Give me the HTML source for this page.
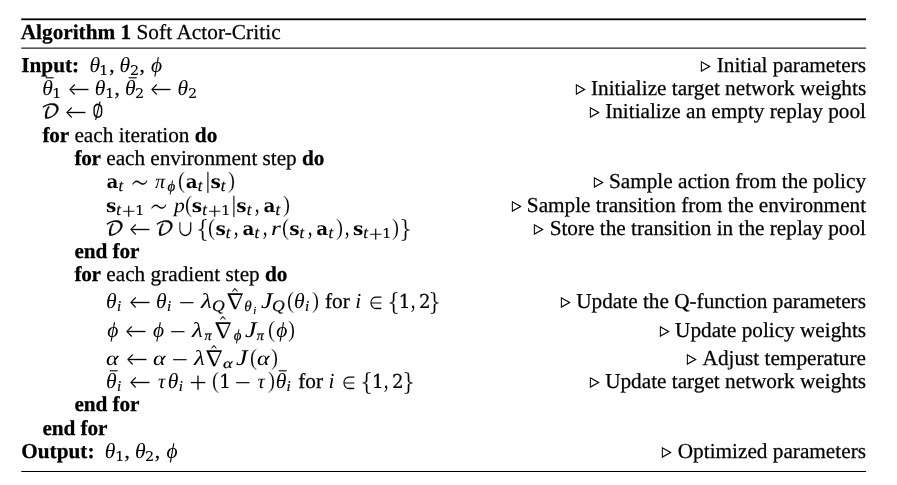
<!DOCTYPE html>
<html lang="en">
<head>
<meta charset="utf-8">
<title>Algorithm 1 Soft Actor-Critic</title>
<style>
html,body{margin:0;padding:0;background:#fff;}
body{width:897px;height:485px;position:relative;overflow:hidden;will-change:transform;color:#000;font-family:"Liberation Serif",serif;text-rendering:geometricPrecision;}
.rules{position:absolute;left:0;top:0;}
.ln{position:absolute;left:0;font-size:0;line-height:0;white-space:nowrap;}
.ln>*{display:inline-block;width:0;position:relative;line-height:0;font-size:21.25px;font-family:"Liberation Serif",serif;font-weight:normal;font-style:normal;white-space:pre;}
.ln>.w{-webkit-text-stroke:0.25px #000;}
.ln>b.w{font-weight:bold;-webkit-text-stroke:0.25px #000;}
.ln>.g{transform-origin:0 0;}
.ln>.d{font-family:"DejaVu Serif",serif;font-weight:bold;}
.ln>.e{font-family:"DejaVu Serif",serif;}
.ln>.i{font-style:italic;}
.ln>.l{font-family:"DejaVu Sans Light","DejaVu Sans",sans-serif;font-weight:200;}
.ln>.m{font-family:"DejaVu Math TeX Gyre","DejaVu Sans",sans-serif;}
.ln>.s{font-family:"DejaVu Sans",sans-serif;}
</style>
</head>
<body>
<svg class="rules" width="897" height="485" viewBox="0 0 897 485" aria-hidden="true"><rect x="21.25" y="18.40" width="844.80" height="1.80"/><rect x="21.25" y="47.58" width="844.80" height="1.08"/><rect x="21.25" y="470.97" width="844.80" height="1.03"/></svg>
<div class="ln" style="bottom:446px"><b class="w" style="left:20.75px;">Algorithm 1</b>
<span class="w" style="left:136.45px;letter-spacing:0.075px;">Soft Actor-Critic</span></div>
<div class="ln" style="bottom:413px"><b class="w" style="left:21.25px;">Input:</b>
<span class="g i" style="left:89.45px;font-size:21.63px;">θ</span>
<span class="g e" style="left:99.42px;top:3px;font-size:13.43px;transform:scaleX(1.120);-webkit-text-stroke:0.10px #000;">1</span>
<span class="w" style="left:109.26px;">,</span>
<span class="g i" style="left:119.59px;font-size:21.63px;">θ</span>
<span class="g e" style="left:129.74px;top:3px;font-size:13.43px;transform:scaleX(1.070);-webkit-text-stroke:0.10px #000;">2</span>
<span class="w" style="left:139.40px;">,</span>
<span class="g i" style="left:151.10px;font-size:21.43px;">ϕ</span>
<span class="g s" style="left:701.39px;top:-2px;font-size:13.56px;transform:scaleX(0.901);-webkit-text-stroke:0.45px #000;">▷</span>
<span class="w" style="left:716.72px;">Initial parameters</span></div>
<div class="ln" style="bottom:390px"><span class="g r" style="left:45.84px;top:-7px;font-size:13.95px;transform:scaleX(1.061);-webkit-text-stroke:0.30px #000;">¯</span>
<span class="g i" style="left:42.20px;font-size:21.63px;">θ</span>
<span class="g e" style="left:52.18px;top:3px;font-size:13.43px;transform:scaleX(1.120);-webkit-text-stroke:0.10px #000;">1</span>
<span class="g l" style="left:67.64px;top:3px;font-size:27.08px;transform:scaleX(0.971);-webkit-text-stroke:0.10px #fff;">←</span>
<span class="g i" style="left:94.77px;font-size:21.63px;">θ</span>
<span class="g e" style="left:104.75px;top:3px;font-size:13.43px;transform:scaleX(1.120);-webkit-text-stroke:0.10px #000;">1</span>
<span class="w" style="left:114.59px;">,</span>
<span class="g r" style="left:128.56px;top:-7px;font-size:13.95px;transform:scaleX(1.061);-webkit-text-stroke:0.30px #000;">¯</span>
<span class="g i" style="left:124.91px;font-size:21.63px;">θ</span>
<span class="g e" style="left:135.07px;top:3px;font-size:13.43px;transform:scaleX(1.070);-webkit-text-stroke:0.10px #000;">2</span>
<span class="g l" style="left:150.35px;top:3px;font-size:27.08px;transform:scaleX(0.971);-webkit-text-stroke:0.10px #fff;">←</span>
<span class="g i" style="left:177.49px;font-size:21.63px;">θ</span>
<span class="g e" style="left:187.64px;top:3px;font-size:13.43px;transform:scaleX(1.070);-webkit-text-stroke:0.10px #000;">2</span>
<span class="g s" style="left:575.65px;top:-2px;font-size:13.56px;transform:scaleX(0.901);-webkit-text-stroke:0.45px #000;">▷</span>
<span class="w" style="left:590.99px;">Initialize target network weights</span></div>
<div class="ln" style="bottom:367px"><span class="g m" style="left:41.30px;font-size:18.91px;transform:scaleX(1.096);-webkit-text-stroke:0.30px #000;">𝒟</span>
<span class="g l" style="left:65.11px;top:3px;font-size:27.08px;transform:scaleX(0.971);-webkit-text-stroke:0.10px #fff;">←</span>
<span class="g m" style="left:91.99px;font-size:19.83px;transform:scaleX(0.893);">∅</span>
<span class="g s" style="left:589.81px;top:-2px;font-size:13.56px;transform:scaleX(0.901);-webkit-text-stroke:0.45px #000;">▷</span>
<span class="w" style="left:605.14px;">Initialize an empty replay pool</span></div>
<div class="ln" style="bottom:343px"><b class="w" style="left:42.50px;letter-spacing:-0.266px;">for</b>
<span class="w" style="left:74.43px;">each iteration</span>
<b class="w" style="left:194.83px;letter-spacing:-0.009px;">do</b></div>
<div class="ln" style="bottom:320px"><b class="w" style="left:74.38px;letter-spacing:-0.266px;">for</b>
<span class="w" style="left:106.31px;letter-spacing:-0.040px;">each environment step</span>
<b class="w" style="left:302.01px;letter-spacing:-0.009px;">do</b></div>
<div class="ln" style="bottom:297px"><span class="g d" style="left:106.40px;font-size:18.42px;-webkit-text-stroke:0.10px #fff;">a</span>
<span class="g i" style="left:118.45px;top:3px;font-size:16.59px;-webkit-text-stroke:0.20px #000;">t</span>
<span class="g l" style="left:130.00px;top:10px;font-size:43.81px;transform:scaleX(0.703);-webkit-text-stroke:0.20px #fff;">∼</span>
<span class="g i" style="left:154.91px;font-size:20.27px;">π</span>
<span class="g i" style="left:167.56px;top:3px;font-size:14.90px;-webkit-text-stroke:0.20px #000;">ϕ</span>
<span class="g r" style="left:178.30px;font-size:23.56px;transform:scaleX(0.894);-webkit-text-stroke:0.20px #fff;">(</span>
<span class="g d" style="left:185.77px;font-size:18.42px;-webkit-text-stroke:0.10px #fff;">a</span>
<span class="g i" style="left:197.82px;top:3px;font-size:16.59px;-webkit-text-stroke:0.20px #000;">t</span>
<span class="g r" style="left:206.08px;font-size:23.19px;transform:scaleX(0.805);-webkit-text-stroke:0.20px #000;">|</span>
<span class="g d" style="left:210.51px;font-size:18.42px;-webkit-text-stroke:0.10px #fff;">s</span>
<span class="g i" style="left:220.84px;top:3px;font-size:16.59px;-webkit-text-stroke:0.20px #000;">t</span>
<span class="g r" style="left:228.31px;font-size:23.56px;transform:scaleX(0.894);-webkit-text-stroke:0.20px #fff;">)</span>
<span class="g s" style="left:593.65px;top:-2px;font-size:13.56px;transform:scaleX(0.901);-webkit-text-stroke:0.45px #000;">▷</span>
<span class="w" style="left:608.99px;letter-spacing:-0.008px;">Sample action from the policy</span></div>
<div class="ln" style="bottom:273px"><span class="g d" style="left:105.88px;font-size:18.42px;-webkit-text-stroke:0.10px #fff;">s</span>
<span class="g i" style="left:116.21px;top:3px;font-size:16.59px;-webkit-text-stroke:0.20px #000;">t</span>
<span class="g s" style="left:121.13px;top:5px;font-size:18.34px;transform:scaleX(1.004);-webkit-text-stroke:0.30px #fff;">+</span>
<span class="g e" style="left:135.07px;top:3px;font-size:13.43px;transform:scaleX(1.120);-webkit-text-stroke:0.10px #000;">1</span>
<span class="g l" style="left:149.28px;top:10px;font-size:43.81px;transform:scaleX(0.703);-webkit-text-stroke:0.20px #fff;">∼</span>
<span class="g i" style="left:173.69px;font-size:20.20px;transform:scaleX(1.066);">p</span>
<span class="g r" style="left:184.88px;font-size:23.56px;transform:scaleX(0.894);-webkit-text-stroke:0.20px #fff;">(</span>
<span class="g d" style="left:191.82px;font-size:18.42px;-webkit-text-stroke:0.10px #fff;">s</span>
<span class="g i" style="left:202.15px;top:3px;font-size:16.59px;-webkit-text-stroke:0.20px #000;">t</span>
<span class="g s" style="left:207.07px;top:5px;font-size:18.34px;transform:scaleX(1.004);-webkit-text-stroke:0.30px #fff;">+</span>
<span class="g e" style="left:221.01px;top:3px;font-size:13.43px;transform:scaleX(1.120);-webkit-text-stroke:0.10px #000;">1</span>
<span class="g r" style="left:231.93px;font-size:23.19px;transform:scaleX(0.805);-webkit-text-stroke:0.20px #000;">|</span>
<span class="g d" style="left:236.36px;font-size:18.42px;-webkit-text-stroke:0.10px #fff;">s</span>
<span class="g i" style="left:246.70px;top:3px;font-size:16.59px;-webkit-text-stroke:0.20px #000;">t</span>
<span class="g r" style="left:255.01px;font-size:25.48px;transform:scaleX(0.676);-webkit-text-stroke:0.20px #000;">,</span>
<span class="g d" style="left:263.46px;font-size:18.42px;-webkit-text-stroke:0.10px #fff;">a</span>
<span class="g i" style="left:275.51px;top:3px;font-size:16.59px;-webkit-text-stroke:0.20px #000;">t</span>
<span class="g r" style="left:282.98px;font-size:23.56px;transform:scaleX(0.894);-webkit-text-stroke:0.20px #fff;">)</span>
<span class="g s" style="left:511.53px;top:-2px;font-size:13.56px;transform:scaleX(0.901);-webkit-text-stroke:0.45px #000;">▷</span>
<span class="w" style="left:526.87px;letter-spacing:-0.020px;">Sample transition from the environment</span></div>
<div class="ln" style="bottom:250px"><span class="g m" style="left:105.06px;font-size:18.91px;transform:scaleX(1.096);-webkit-text-stroke:0.30px #000;">𝒟</span>
<span class="g l" style="left:128.87px;top:3px;font-size:27.08px;transform:scaleX(0.971);-webkit-text-stroke:0.10px #fff;">←</span>
<span class="g m" style="left:155.11px;font-size:18.91px;transform:scaleX(1.096);-webkit-text-stroke:0.30px #000;">𝒟</span>
<span class="g e" style="left:176.81px;top:1px;font-size:22.76px;transform:scaleX(0.869);-webkit-text-stroke:0.30px #fff;">∪</span>
<span class="g e" style="left:195.60px;top:2px;font-size:23.83px;transform:scaleX(0.872);-webkit-text-stroke:0.20px #fff;">{</span>
<span class="g r" style="left:208.48px;font-size:23.56px;transform:scaleX(0.894);-webkit-text-stroke:0.20px #fff;">(</span>
<span class="g d" style="left:215.42px;font-size:18.42px;-webkit-text-stroke:0.10px #fff;">s</span>
<span class="g i" style="left:225.75px;top:3px;font-size:16.59px;-webkit-text-stroke:0.20px #000;">t</span>
<span class="g r" style="left:234.06px;font-size:25.48px;transform:scaleX(0.676);-webkit-text-stroke:0.20px #000;">,</span>
<span class="g d" style="left:242.51px;font-size:18.42px;-webkit-text-stroke:0.10px #fff;">a</span>
<span class="g i" style="left:254.56px;top:3px;font-size:16.59px;-webkit-text-stroke:0.20px #000;">t</span>
<span class="g r" style="left:262.87px;font-size:25.48px;transform:scaleX(0.676);-webkit-text-stroke:0.20px #000;">,</span>
<span class="g i" style="left:270.63px;font-size:20.23px;transform:scaleX(1.255);">r</span>
<span class="g r" style="left:282.30px;font-size:23.56px;transform:scaleX(0.894);-webkit-text-stroke:0.20px #fff;">(</span>
<span class="g d" style="left:289.24px;font-size:18.42px;-webkit-text-stroke:0.10px #fff;">s</span>
<span class="g i" style="left:299.57px;top:3px;font-size:16.59px;-webkit-text-stroke:0.20px #000;">t</span>
<span class="g r" style="left:307.88px;font-size:25.48px;transform:scaleX(0.676);-webkit-text-stroke:0.20px #000;">,</span>
<span class="g d" style="left:316.34px;font-size:18.42px;-webkit-text-stroke:0.10px #fff;">a</span>
<span class="g i" style="left:328.38px;top:3px;font-size:16.59px;-webkit-text-stroke:0.20px #000;">t</span>
<span class="g r" style="left:335.85px;font-size:23.56px;transform:scaleX(0.894);-webkit-text-stroke:0.20px #fff;">)</span>
<span class="g r" style="left:344.96px;font-size:25.48px;transform:scaleX(0.676);-webkit-text-stroke:0.20px #000;">,</span>
<span class="g d" style="left:352.89px;font-size:18.42px;-webkit-text-stroke:0.10px #fff;">s</span>
<span class="g i" style="left:363.22px;top:3px;font-size:16.59px;-webkit-text-stroke:0.20px #000;">t</span>
<span class="g s" style="left:368.13px;top:5px;font-size:18.34px;transform:scaleX(1.004);-webkit-text-stroke:0.30px #fff;">+</span>
<span class="g e" style="left:382.08px;top:3px;font-size:13.43px;transform:scaleX(1.120);-webkit-text-stroke:0.10px #000;">1</span>
<span class="g r" style="left:392.21px;font-size:23.56px;transform:scaleX(0.894);-webkit-text-stroke:0.20px #fff;">)</span>
<span class="g e" style="left:398.88px;top:2px;font-size:23.83px;transform:scaleX(0.872);-webkit-text-stroke:0.20px #fff;">}</span>
<span class="g s" style="left:534.29px;top:-2px;font-size:13.56px;transform:scaleX(0.901);-webkit-text-stroke:0.45px #000;">▷</span>
<span class="w" style="left:549.63px;">Store the transition in the replay pool</span></div>
<div class="ln" style="bottom:227px"><b class="w" style="left:74.38px;letter-spacing:-0.087px;">end for</b></div>
<div class="ln" style="bottom:204px"><b class="w" style="left:74.38px;letter-spacing:-0.266px;">for</b>
<span class="w" style="left:106.31px;">each gradient step</span>
<b class="w" style="left:265.07px;letter-spacing:-0.009px;">do</b></div>
<div class="ln" style="bottom:177px"><span class="g i" style="left:105.96px;font-size:21.63px;">θ</span>
<span class="g i" style="left:116.93px;top:3px;font-size:14.96px;-webkit-text-stroke:0.20px #000;">i</span>
<span class="g l" style="left:128.94px;top:3px;font-size:27.08px;transform:scaleX(0.971);-webkit-text-stroke:0.10px #fff;">←</span>
<span class="g i" style="left:156.08px;font-size:21.63px;">θ</span>
<span class="g i" style="left:167.04px;top:3px;font-size:14.96px;-webkit-text-stroke:0.20px #000;">i</span>
<span class="g s" style="left:177.60px;top:-1px;font-size:13.74px;transform:scaleX(1.531);-webkit-text-stroke:0.10px #000;">−</span>
<span class="g i" style="left:201.00px;font-size:21.15px;transform:scaleX(1.181);">λ</span>
<span class="g i" style="left:211.82px;top:3px;font-size:15.98px;transform:scaleX(1.099);-webkit-text-stroke:0.20px #000;">Q</span>
<span class="g s" style="left:231.18px;top:-11px;font-size:12.03px;transform:scaleX(0.777);-webkit-text-stroke:0.10px #000;">^</span>
<span class="g m" style="left:223.99px;top:1px;font-size:21.97px;transform:scaleX(1.146);-webkit-text-stroke:0.20px #fff;">∇</span>
<span class="g i" style="left:244.35px;top:3px;font-size:15.04px;-webkit-text-stroke:0.20px #000;">θ</span>
<span class="g i" style="left:253.27px;top:6px;font-size:10.77px;-webkit-text-stroke:0.20px #000;">i</span>
<span class="g i" style="left:260.83px;font-size:22.39px;transform:scaleX(1.167);">J</span>
<span class="g i" style="left:271.66px;top:3px;font-size:15.98px;transform:scaleX(1.099);-webkit-text-stroke:0.20px #000;">Q</span>
<span class="g r" style="left:287.03px;font-size:23.56px;transform:scaleX(0.894);-webkit-text-stroke:0.20px #fff;">(</span>
<span class="g i" style="left:294.05px;font-size:21.63px;">θ</span>
<span class="g i" style="left:305.02px;top:3px;font-size:14.96px;-webkit-text-stroke:0.20px #000;">i</span>
<span class="g r" style="left:311.70px;font-size:23.56px;transform:scaleX(0.894);-webkit-text-stroke:0.20px #fff;">)</span>
<span class="w" style="left:324.99px;">for</span>
<span class="g i" style="left:355.26px;font-size:21.43px;">i</span>
<span class="g s" style="left:368.54px;top:1px;font-size:17.84px;transform:scaleX(0.881);-webkit-text-stroke:0.10px #fff;">∈</span>
<span class="g e" style="left:387.07px;top:2px;font-size:23.83px;transform:scaleX(0.872);-webkit-text-stroke:0.20px #fff;">{</span>
<span class="g e" style="left:398.53px;font-size:19.13px;-webkit-text-stroke:0.20px #000;">1</span>
<span class="g r" style="left:410.77px;font-size:25.48px;transform:scaleX(0.676);-webkit-text-stroke:0.20px #000;">,</span>
<span class="g e" style="left:418.87px;font-size:19.13px;transform:scaleX(0.952);-webkit-text-stroke:0.20px #000;">2</span>
<span class="g e" style="left:428.40px;top:2px;font-size:23.83px;transform:scaleX(0.872);-webkit-text-stroke:0.20px #fff;">}</span>
<span class="g s" style="left:560.92px;top:-2px;font-size:13.56px;transform:scaleX(0.901);-webkit-text-stroke:0.45px #000;">▷</span>
<span class="w" style="left:576.26px;">Update the Q-function parameters</span></div>
<div class="ln" style="bottom:148px"><span class="g i" style="left:107.33px;font-size:21.43px;">ϕ</span>
<span class="g l" style="left:124.55px;top:3px;font-size:27.08px;transform:scaleX(0.971);-webkit-text-stroke:0.10px #fff;">←</span>
<span class="g i" style="left:153.06px;font-size:21.43px;">ϕ</span>
<span class="g s" style="left:168.82px;top:-1px;font-size:13.74px;transform:scaleX(1.531);-webkit-text-stroke:0.10px #000;">−</span>
<span class="g i" style="left:192.23px;font-size:21.15px;transform:scaleX(1.181);">λ</span>
<span class="g i" style="left:204.43px;top:3px;font-size:14.06px;-webkit-text-stroke:0.20px #000;">π</span>
<span class="g s" style="left:219.49px;top:-12px;font-size:12.03px;transform:scaleX(0.777);-webkit-text-stroke:0.10px #000;">^</span>
<span class="g m" style="left:212.30px;top:1px;font-size:21.97px;transform:scaleX(1.146);-webkit-text-stroke:0.20px #fff;">∇</span>
<span class="g i" style="left:233.76px;top:3px;font-size:14.90px;-webkit-text-stroke:0.20px #000;">ϕ</span>
<span class="g i" style="left:244.53px;font-size:22.39px;transform:scaleX(1.167);">J</span>
<span class="g i" style="left:256.75px;top:3px;font-size:14.06px;-webkit-text-stroke:0.20px #000;">π</span>
<span class="g r" style="left:267.82px;font-size:23.56px;transform:scaleX(0.894);-webkit-text-stroke:0.20px #fff;">(</span>
<span class="g i" style="left:276.21px;font-size:21.43px;">ϕ</span>
<span class="g r" style="left:288.10px;font-size:23.56px;transform:scaleX(0.894);-webkit-text-stroke:0.20px #fff;">)</span>
<span class="g s" style="left:659.77px;top:-2px;font-size:13.56px;transform:scaleX(0.901);-webkit-text-stroke:0.45px #000;">▷</span>
<span class="w" style="left:675.11px;letter-spacing:-0.014px;">Update policy weights</span></div>
<div class="ln" style="bottom:120px"><span class="g i" style="left:106.29px;font-size:20.21px;transform:scaleX(1.180);">α</span>
<span class="g l" style="left:125.56px;top:3px;font-size:27.08px;transform:scaleX(0.971);-webkit-text-stroke:0.10px #fff;">←</span>
<span class="g i" style="left:153.02px;font-size:20.21px;transform:scaleX(1.180);">α</span>
<span class="g s" style="left:170.84px;top:-1px;font-size:13.74px;transform:scaleX(1.531);-webkit-text-stroke:0.10px #000;">−</span>
<span class="g i" style="left:194.25px;font-size:21.15px;transform:scaleX(1.181);">λ</span>
<span class="g s" style="left:209.98px;top:-11px;font-size:12.03px;transform:scaleX(0.777);-webkit-text-stroke:0.10px #000;">^</span>
<span class="g m" style="left:202.79px;top:1px;font-size:21.97px;transform:scaleX(1.146);-webkit-text-stroke:0.20px #fff;">∇</span>
<span class="g i" style="left:223.11px;top:3px;font-size:13.99px;transform:scaleX(1.287);-webkit-text-stroke:0.20px #000;">α</span>
<span class="g i" style="left:235.85px;font-size:22.39px;transform:scaleX(1.167);">J</span>
<span class="g r" style="left:249.64px;font-size:23.56px;transform:scaleX(0.894);-webkit-text-stroke:0.20px #fff;">(</span>
<span class="g i" style="left:256.99px;font-size:20.21px;transform:scaleX(1.180);">α</span>
<span class="g r" style="left:270.93px;font-size:23.56px;transform:scaleX(0.894);-webkit-text-stroke:0.20px #fff;">)</span>
<span class="g s" style="left:687.21px;top:-2px;font-size:13.56px;transform:scaleX(0.901);-webkit-text-stroke:0.45px #000;">▷</span>
<span class="w" style="left:702.55px;">Adjust temperature</span></div>
<div class="ln" style="bottom:97px"><span class="g r" style="left:109.61px;top:-7px;font-size:13.95px;transform:scaleX(1.061);-webkit-text-stroke:0.30px #000;">¯</span>
<span class="g i" style="left:105.96px;font-size:21.63px;">θ</span>
<span class="g i" style="left:116.93px;top:3px;font-size:14.96px;-webkit-text-stroke:0.20px #000;">i</span>
<span class="g l" style="left:128.94px;top:3px;font-size:27.08px;transform:scaleX(0.971);-webkit-text-stroke:0.10px #fff;">←</span>
<span class="g i" style="left:157.94px;font-size:20.27px;">τ</span>
<span class="g i" style="left:167.77px;font-size:21.63px;">θ</span>
<span class="g i" style="left:178.74px;top:3px;font-size:14.96px;-webkit-text-stroke:0.20px #000;">i</span>
<span class="g s" style="left:188.13px;top:2px;font-size:23.58px;transform:scaleX(1.011);-webkit-text-stroke:0.50px #fff;">+</span>
<span class="g r" style="left:212.04px;font-size:23.56px;transform:scaleX(0.894);-webkit-text-stroke:0.20px #fff;">(</span>
<span class="g e" style="left:218.90px;font-size:19.13px;-webkit-text-stroke:0.20px #000;">1</span>
<span class="g s" style="left:234.17px;top:-1px;font-size:13.74px;transform:scaleX(1.531);-webkit-text-stroke:0.10px #000;">−</span>
<span class="g i" style="left:257.53px;font-size:20.27px;">τ</span>
<span class="g r" style="left:267.96px;font-size:23.56px;transform:scaleX(0.894);-webkit-text-stroke:0.20px #fff;">)</span>
<span class="g r" style="left:279.28px;top:-7px;font-size:13.95px;transform:scaleX(1.061);-webkit-text-stroke:0.30px #000;">¯</span>
<span class="g i" style="left:275.63px;font-size:21.63px;">θ</span>
<span class="g i" style="left:286.60px;top:3px;font-size:14.96px;-webkit-text-stroke:0.20px #000;">i</span>
<span class="w" style="left:298.30px;">for</span>
<span class="g i" style="left:328.57px;font-size:21.43px;">i</span>
<span class="g s" style="left:341.85px;top:1px;font-size:17.84px;transform:scaleX(0.881);-webkit-text-stroke:0.10px #fff;">∈</span>
<span class="g e" style="left:360.39px;top:2px;font-size:23.83px;transform:scaleX(0.872);-webkit-text-stroke:0.20px #fff;">{</span>
<span class="g e" style="left:371.85px;font-size:19.13px;-webkit-text-stroke:0.20px #000;">1</span>
<span class="g r" style="left:384.08px;font-size:25.48px;transform:scaleX(0.676);-webkit-text-stroke:0.20px #000;">,</span>
<span class="g e" style="left:392.18px;font-size:19.13px;transform:scaleX(0.952);-webkit-text-stroke:0.20px #000;">2</span>
<span class="g e" style="left:401.72px;top:2px;font-size:23.83px;transform:scaleX(0.872);-webkit-text-stroke:0.20px #fff;">}</span>
<span class="g s" style="left:589.83px;top:-2px;font-size:13.56px;transform:scaleX(0.901);-webkit-text-stroke:0.45px #000;">▷</span>
<span class="w" style="left:605.16px;letter-spacing:-0.005px;">Update target network weights</span></div>
<div class="ln" style="bottom:74px"><b class="w" style="left:74.38px;letter-spacing:-0.087px;">end for</b></div>
<div class="ln" style="bottom:50px"><b class="w" style="left:42.50px;letter-spacing:-0.087px;">end for</b></div>
<div class="ln" style="bottom:27px"><b class="w" style="left:21.25px;">Output:</b>
<span class="g i" style="left:104.79px;font-size:21.63px;">θ</span>
<span class="g e" style="left:114.77px;top:3px;font-size:13.43px;transform:scaleX(1.120);-webkit-text-stroke:0.10px #000;">1</span>
<span class="w" style="left:124.61px;">,</span>
<span class="g i" style="left:134.93px;font-size:21.63px;">θ</span>
<span class="g e" style="left:145.08px;top:3px;font-size:13.43px;transform:scaleX(1.070);-webkit-text-stroke:0.10px #000;">2</span>
<span class="w" style="left:154.75px;">,</span>
<span class="g i" style="left:166.44px;font-size:21.43px;">ϕ</span>
<span class="g s" style="left:662.43px;top:-2px;font-size:13.56px;transform:scaleX(0.901);-webkit-text-stroke:0.45px #000;">▷</span>
<span class="w" style="left:677.77px;">Optimized parameters</span></div>
</body>
</html>
